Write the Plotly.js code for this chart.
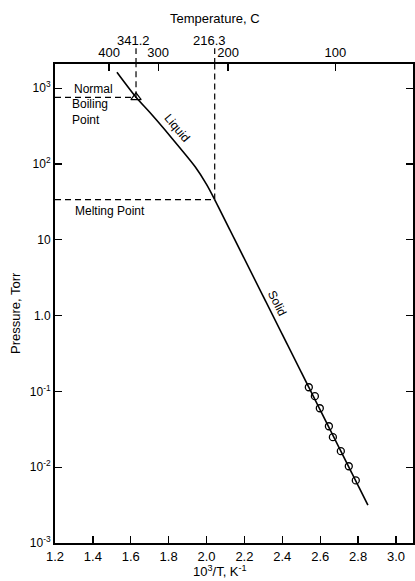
<!DOCTYPE html>
<html><head><meta charset="utf-8">
<script src="https://cdn.plot.ly/plotly-3.0.1.min.js"></script>
<style>html,body{margin:0;padding:0;background:#fff}#chart{width:415px;height:581px}</style>
</head><body><div id="chart"></div>
<script>
// ---- data ----
const liquidX = [1.527, 1.628, 1.70, 1.78, 1.86, 1.94, 2.00, 2.043];
const liquidP = [1626, 760, 481, 283, 163, 92, 54, 34];
const solidX = [2.043, 2.852];
const solidP = [34, 0.00316];
const obsX = [2.540, 2.572, 2.598, 2.646, 2.667, 2.709, 2.751, 2.788];
const obsP = [0.1135, 0.0865, 0.060, 0.0347, 0.0249, 0.0163, 0.0103, 0.0067];
const boilC = 341.2, boilP = 760;
const meltC = 216.3, meltP = 34;
const tempTicksC = [400, 300, 200, 100];
const xTickVals = [1.2, 1.4, 1.6, 1.8, 2.0, 2.2, 2.4, 2.6, 2.8, 3.0];
const xTickText = ['1.2', '1.4', '1.6', '1.8', '2.0', '2.2', '2.4', '2.6', '2.8', '3.0'];
const yTickVals = [1e3, 1e2, 10, 1, 0.1, 0.01, 0.001];
const yTickText = ['10<sup>3</sup>', '10<sup>2</sup>', '10', '1.0', '10<sup>-1</sup>', '10<sup>-2</sup>', '10<sup>-3</sup>'];
const xRange = [1.2, 3.09];
const yRangeLog = [-3, 3.32];

const toInvT = c => 1000 / (c + 273.15);
const boilX = toInvT(boilC), meltX = toInvT(meltC);
const FONT = 'Liberation Sans, Arial, sans-serif';
const topP = Math.pow(10, yRangeLog[1]);

const traces = [
  {x: liquidX, y: liquidP, mode: 'lines', line: {color: '#000', width: 1.6, shape: 'spline', smoothing: 0.8}, xaxis: 'x', yaxis: 'y', hoverinfo: 'skip'},
  {x: solidX, y: solidP, mode: 'lines', line: {color: '#000', width: 1.6}, xaxis: 'x', yaxis: 'y', hoverinfo: 'skip'},
  {x: obsX, y: obsP, mode: 'markers', marker: {symbol: 'circle-open', size: 7, color: '#000', line: {width: 1.3}}, xaxis: 'x', yaxis: 'y', cliponaxis: false},
  {x: [boilX], y: [boilP], mode: 'markers', marker: {symbol: 'triangle-up-open', size: 9, color: '#000', line: {width: 1.2}}, xaxis: 'x2', yaxis: 'y', cliponaxis: false}
];

const dash = {color: '#000', width: 1.2, dash: '6px,4px'};
const shapes = [
  {type: 'line', xref: 'x', yref: 'y', x0: xRange[0], x1: boilX, y0: boilP, y1: boilP, line: dash},
  {type: 'line', xref: 'x', yref: 'y', x0: xRange[0], x1: meltX, y0: meltP, y1: meltP, line: dash},
  {type: 'line', xref: 'x', yref: 'y', x0: boilX, x1: boilX, y0: boilP, y1: topP, line: dash},
  {type: 'line', xref: 'x', yref: 'y', x0: meltX, x1: meltX, y0: meltP, y1: topP, line: dash},
  {type: 'line', xref: 'x', yref: 'paper', x0: boilX, x1: boilX, y0: 1, y1: 1.033, line: dash},
  {type: 'line', xref: 'x', yref: 'paper', x0: meltX, x1: meltX, y0: 1, y1: 1.033, line: dash}
];

const tf = {family: FONT, size: 12, color: '#000'};
const big = {family: FONT, size: 13, color: '#000'};
function ann(o) { return Object.assign({showarrow: false, xanchor: 'center', yanchor: 'middle', xref: 'paper', yref: 'paper', font: tf}, o); }
const annotations = [
  ann({text: 'Temperature, C', x: 0.447, y: 1.096, font: big}),
  ann({text: String(boilC), xref: 'x', x: boilX, y: 1.05, xshift: -3, font: big}),
  ann({text: String(meltC), xref: 'x', x: meltX, y: 1.05, xshift: -5, font: big}),
  ann({text: 'Normal', x: 0.047, y: 0.948, xanchor: 'left'}),
  ann({text: 'Boiling<br>Point', x: 0.042, y: 0.899, xanchor: 'left', align: 'left'}),
  ann({text: 'Melting Point', x: 0.05, y: 0.693, xanchor: 'left'}),
  ann({text: 'Liquid', x: (177 - 55) / 358, y: (543 - 128) / 479, textangle: 50}),
  ann({text: 'Solid', x: (277 - 55) / 358, y: (543 - 303) / 479, textangle: 63}),
  ann({text: 'Pressure, Torr', x: -0.112, y: 0.48, textangle: -90, font: big}),
  ann({text: '10<sup>3</sup>/T, K<sup>-1</sup>', x: 0.462, y: -0.058, font: big})
];

const layout = {
  width: 415, height: 581,
  margin: {l: 55, r: 2, t: 64, b: 38},
  paper_bgcolor: '#fff', plot_bgcolor: '#fff',
  showlegend: false,
  font: {family: FONT, size: 13, color: '#000'},
  xaxis: {range: xRange, tickvals: xTickVals, ticktext: xTickText, ticks: 'inside', ticklen: 7, tickwidth: 1.3, tickcolor: '#000',
          showline: true, linewidth: 2, linecolor: '#000', showgrid: false, zeroline: false, mirror: false,
          tickfont: big},
  xaxis2: {range: xRange, overlaying: 'x', side: 'top', anchor: 'y', tickvals: tempTicksC.map(toInvT), ticktext: tempTicksC.map(String),
           ticks: 'inside', ticklen: 7, tickwidth: 1.3, tickcolor: '#000', showline: true, linewidth: 2, linecolor: '#000',
           showgrid: false, zeroline: false, tickfont: big},
  yaxis: {type: 'log', range: yRangeLog, tickvals: yTickVals, ticktext: yTickText, ticks: 'inside', ticklen: 7, tickwidth: 1.3, tickcolor: '#000',
          showline: true, linewidth: 2, linecolor: '#000', mirror: 'ticks', showgrid: false, zeroline: false,
          tickfont: tf},
  shapes: shapes,
  annotations: annotations
};

Plotly.newPlot('chart', traces, layout, {displayModeBar: false, staticPlot: true});
</script></body></html>
